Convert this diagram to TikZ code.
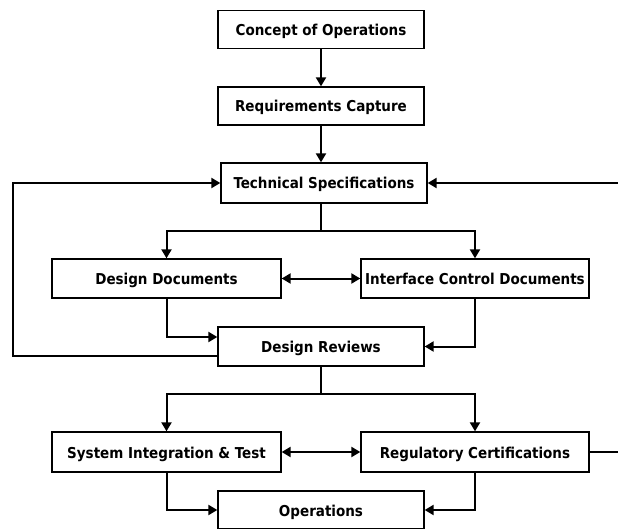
\documentclass[tikz,border=0pt]{standalone}
\usepackage{fontspec}
\setmainfont{DejaVu Sans Condensed}
\usetikzlibrary{arrows.meta,calc}
\begin{document}
\begin{tikzpicture}[x=1pt,y=-1pt,
  box/.style={draw,line width=1.3pt,fill=white,inner sep=0pt,text height=13pt,text depth=1pt,font=\fontsize{15}{17}\selectfont\bfseries},
  conn/.style={line width=2pt},
  arr/.style={conn,-{Triangle[length=9pt,width=10pt]}},
  darr/.style={conn,{Triangle[length=9pt,width=10pt]}-{Triangle[length=9pt,width=10pt]}}]
\useasboundingbox (0,0) rectangle (618,529);
\node[box,minimum width=206pt,minimum height=38pt] (concept) at (321,29.5) {Concept of Operations};
\node[box,minimum width=206pt,minimum height=38pt] (req) at (321,106) {Requirements Capture};
\node[box,minimum width=206pt,minimum height=40pt] (tech) at (324,183) {Technical Specifications};
\node[box,minimum width=229pt,minimum height=39pt] (dd) at (166.5,278.5) {Design Documents};
\node[box,minimum width=228pt,minimum height=39pt] (icd) at (475,278.5) {Interface Control Documents};
\node[box,minimum width=206pt,minimum height=39pt] (dr) at (321,346.5) {Design Reviews};
\node[box,minimum width=229pt,minimum height=40pt] (sit) at (166.5,452) {System Integration \& Test};
\node[box,minimum width=228pt,minimum height=40pt] (rc) at (475,452) {Regulatory Certifications};
\node[box,minimum width=206pt,minimum height=38pt] (ops) at (321,510) {Operations};
\coordinate (fl) at (13,356);
\coordinate (fr) at (618,183);
\coordinate (rcr) at (618,452);
\coordinate (s1) at (321,231);
\coordinate (s2) at (321,394);
\draw[arr] (concept) -- (req);
\draw[arr] (req.south) -- (req.south |- tech.north);
\draw[arr] ([yshift=-9.5pt]dr.west) -- (fl) |- (tech.west);
\draw[arr] (fr) -- (tech.east);
\draw[conn] (s1 |- tech.south) -- (s1);
\draw[arr] (s1) -| (dd.north);
\draw[arr] (s1) -| (icd.north);
\draw[darr] (dd) -- (icd);
\draw[arr] (dd.south) |- ([yshift=9.5pt]dr.west);
\draw[arr] (icd.south) |- (dr.east);
\draw[conn] (dr.south) -- (s2);
\draw[arr] (s2) -| (sit.north);
\draw[arr] (s2) -| (rc.north);
\draw[darr] (sit) -- (rc);
\draw[conn] (rc.east) -- (rcr);
\draw[arr] (sit.south) |- (ops.west);
\draw[arr] (rc.south) |- (ops.east);
\end{tikzpicture}
\end{document}
